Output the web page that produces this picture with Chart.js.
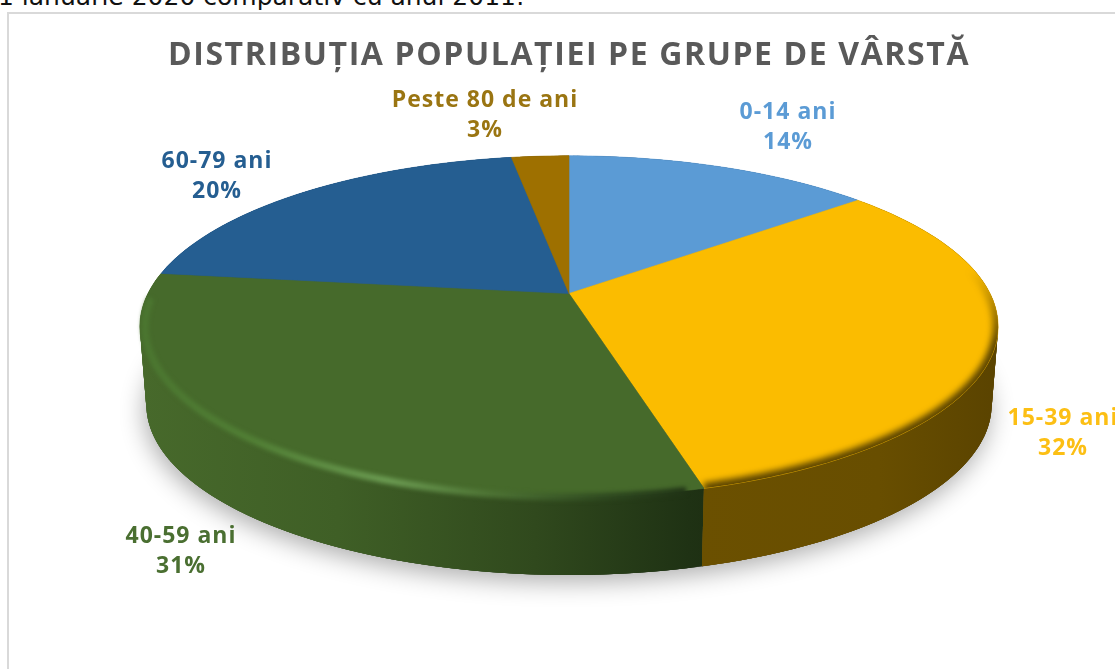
<!DOCTYPE html>
<html><head><meta charset="utf-8">
<style>
html,body{margin:0;padding:0;background:#fff;overflow:hidden;width:1115px;height:669px}
#cap{position:absolute;left:-2px;top:-18px;font:25px "DejaVu Sans",sans-serif;color:#111;white-space:nowrap}
#frame{position:absolute;left:7px;top:12px;width:1120px;height:680px;border:2px solid #d9d9d9;box-sizing:border-box}
#wrap{position:absolute;left:0;top:0;width:1115px;height:669px}
</style></head><body>
<div id="cap">1 ianuarie 2020 comparativ cu anul 2011:</div>
<div id="frame"></div>
<div id="wrap"><canvas id="c" width="1115" height="669"></canvas></div>
<script src="https://cdn.jsdelivr.net/npm/chart.js@4"></script>
<script>
const categories = ["0-14 ani","15-39 ani","40-59 ani","60-79 ani","Peste 80 de ani"];
const values = [14.0,31.8,31.2,20.4,2.6];
const percentLabels = ["14%","32%","31%","20%","3%"];
const faceColors = ["#5b9bd5","#fbbc00","#466a2b","#255e91","#9e7000"];
const labelColors = ["#5b9bd5","#fcbf14","#4a6f31","#255e91","#9a7512"];
const labelAnchors = [[788,112],[1063,418],[181,536],[217,161],[485,100]];

const P = {d:422/218, a:164.6/218, c:-0.193, depth:78, shrink:0.985};
function proj(el,th){const u=Math.cos(th),v=Math.sin(th),k=1+P.c*v,R=el.outerRadius;
  return [el.x+P.d*R*u/k, el.y+P.a*R*v/k];}
function low(el,p){return [el.x+(p[0]-el.x)*P.shrink,p[1]+P.depth];}
function rim(el,a0,a1){const n=Math.max(4,Math.ceil((a1-a0)*90)),o=[];
  for(let i=0;i<=n;i++)o.push(proj(el,a0+(a1-a0)*i/n));return o;}
function trace(ctx,pts,close){ctx.beginPath();pts.forEach((p,i)=>i?ctx.lineTo(p[0],p[1]):ctx.moveTo(p[0],p[1]));if(close)ctx.closePath();}

const pie3d = {id:'pie3d',
 beforeDraw(chart){chart.ctx.letterSpacing='1.6px';},
 beforeDatasetDraw(chart,args){
  const ctx=chart.ctx, els=chart.getDatasetMeta(args.index).data;
  ctx.letterSpacing='0px';
  const e0=els[0], A0=e0.startAngle, whole=rim(e0,A0,A0+Math.PI*2);
  ctx.save();
  // soft floor shadow
  ctx.save();ctx.shadowColor='rgba(0,0,0,0.32)';ctx.shadowBlur=24;ctx.shadowOffsetY=7;ctx.shadowOffsetX=-2;
  trace(ctx,whole.map(p=>low(e0,p)),true);ctx.fillStyle='#555';ctx.fill();ctx.restore();
  // side walls: overlapping opaque quads so the outline past the widest point stays filled
  const g1=ctx.createLinearGradient(140,0,705,0);
  g1.addColorStop(0,'#47692b');g1.addColorStop(.35,'#3f5f26');g1.addColorStop(.7,'#30491d');g1.addColorStop(.97,'#1f3214');g1.addColorStop(1,'#1e3013');
  const g2=ctx.createLinearGradient(700,0,1000,0);
  g2.addColorStop(0,'#6b5000');g2.addColorStop(.6,'#684e00');g2.addColorStop(1,'#5a4300');
  const walls=[null,g2,g1,'#1c4770','#6f5200'];
  [3,4,0,2,1].forEach(i=>{const el=els[i];const r=rim(el,el.startAngle,el.endAngle);
    ctx.fillStyle=walls[i]||'#3d6b94';
    for(let k=0;k<r.length-1;k++){const b=r[Math.min(k+3,r.length-1)];
      trace(ctx,[r[k],b,low(el,b),low(el,r[k])],true);ctx.fill();}
  });
  // top faces
  els.forEach((el,i)=>{const r=rim(el,el.startAngle,el.endAngle);
    trace(ctx,[[el.x,el.y]].concat(r),true);ctx.fillStyle=el.options.backgroundColor;ctx.fill();
    ctx.strokeStyle=el.options.backgroundColor;ctx.lineWidth=.6;ctx.stroke();});
  // yellow rim bevel
  let el=els[1],r=rim(el,el.startAngle,el.endAngle);
  ctx.save();trace(ctx,[[el.x,el.y]].concat(r),true);ctx.clip();
  let g=ctx.createLinearGradient(0,270,0,345);g.addColorStop(0,'rgba(90,67,0,0)');g.addColorStop(1,'rgba(90,67,0,1)');
  ctx.filter='blur(3px)';trace(ctx,r,false);ctx.strokeStyle=g;ctx.lineWidth=11;ctx.stroke();ctx.restore();
  // green rim bevel, inset a little so its blur stays inside the solid
  el=els[2];r=rim(el,el.startAngle,el.endAngle).map(p=>[el.x+(p[0]-el.x)*0.988,p[1]]);
  ctx.save();
  g=ctx.createLinearGradient(140,0,705,0);
  g.addColorStop(0,'#4b7630');g.addColorStop(.2,'#517f35');g.addColorStop(.44,'#6b9b52');g.addColorStop(.62,'#4d7334');g.addColorStop(.82,'#2f4a20');g.addColorStop(.97,'#203316');g.addColorStop(1,'#203316');
  ctx.filter='blur(2px)';trace(ctx,r.slice(Math.floor(r.length*0.02),r.length-Math.floor(r.length*0.08)),false);ctx.strokeStyle=g;ctx.lineWidth=7;ctx.stroke();ctx.restore();
  ctx.restore();
  return false;
 },
 afterDraw(chart){
  const ctx=chart.ctx;ctx.save();ctx.textAlign='center';ctx.textBaseline='middle';ctx.font='700 23px "Open Sans"';ctx.letterSpacing='1px';
  categories.forEach((c,i)=>{const a=labelAnchors[i];ctx.fillStyle=labelColors[i];
    ctx.fillText(c,a[0],a[1]);ctx.fillText(percentLabels[i],a[0],a[1]+30);});
  ctx.restore();
 }
};

new Chart(document.getElementById('c'),{
 type:'pie',
 data:{labels:categories,datasets:[{data:values,backgroundColor:faceColors,borderWidth:0}]},
 plugins:[pie3d],
 options:{responsive:false,animation:false,
  layout:{padding:{left:23,right:0,top:30,bottom:158}},
  plugins:{legend:{display:false},tooltip:{enabled:false},
   title:{display:true,text:"DISTRIBUȚIA POPULAȚIEI PE GRUPE DE VÂRSTĂ",color:'#595959',
    font:{family:'"Open Sans"',size:32,weight:'700',lineHeight:1},padding:{top:10,bottom:4}}}
 }
});
</script></body></html>
